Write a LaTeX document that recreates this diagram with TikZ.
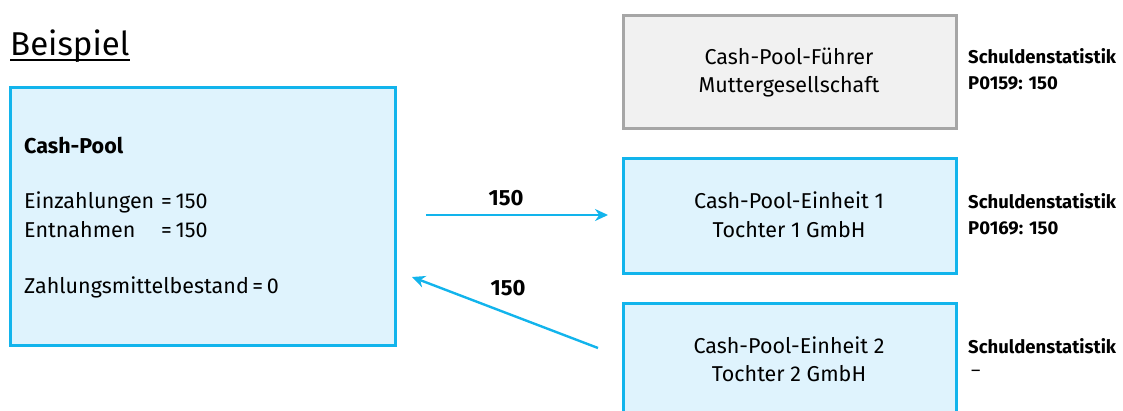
\documentclass[tikz,border=0pt]{standalone}
\usepackage{fontspec}
\setmainfont{Fira Sans}
\usetikzlibrary{arrows.meta,calc}
\definecolor{cpblue}{HTML}{12B4EC}
\definecolor{cpfill}{HTML}{DFF3FD}
\definecolor{cpgray}{HTML}{A6A6A6}
\definecolor{cpgfill}{HTML}{F1F1F1}
\begin{document}
\begin{tikzpicture}[x=1pt,y=-1pt,
  bluebox/.style={draw=cpblue,fill=cpfill,line width=3pt,anchor=north west,inner sep=0pt},
  graybox/.style={draw=cpgray,fill=cpgfill,line width=3pt,anchor=north west,inner sep=0pt},
  txt/.style={anchor=base west,inner sep=0pt,font=\fontsize{21.5}{25}\selectfont,text=black},
  ctxt/.style={anchor=base,inner sep=0pt,font=\fontsize{21.5}{25}\selectfont,text=black},
  stat/.style={anchor=base west,inner sep=0pt,font=\fontsize{18.5}{21}\selectfont\bfseries},
  flow/.style={draw=cpblue,line width=2.4pt,-{Stealth[length=13pt,width=12pt]}},
  lbl/.style={anchor=base,inner sep=0pt,font=\fontsize{22}{25}\selectfont\bfseries}]
\useasboundingbox (0,0) rectangle (1123,410);
\begin{scope}
\clip (0,0) rectangle (1123,410);
% title
\node[anchor=base west,inner sep=0pt,font=\fontsize{33}{38}\selectfont] (title) at (10,55) {Beispiel};
\draw[line width=1.2pt] ($(title.base west)+(0,5)$) -- ($(title.base east)+(0,5)$);
% left box
\node[bluebox,minimum width=385pt,minimum height=258pt] (pool) at (9,86) {};
\node[txt,font=\fontsize{21.5}{25}\selectfont\bfseries] (cp) at (24,153) {Cash-Pool};
\node[txt] (ein) at (24,208) {Einzahlungen};
\node[txt] (eineq) at (161,208) {=\,150};
\node[txt] (ent) at (24,237) {Entnahmen};
\node[txt] (enteq) at (161,237) {=\,150};
\node[txt] (zmb) at (24,293) {Zahlungsmittelbestand\,=\,0};
% right boxes
\node[graybox,minimum width=333pt,minimum height=113pt] (fuehrer) at (622,14) {};
\node[ctxt] (f1) at (789,64) {Cash-Pool-Führer};
\node[ctxt] (f2) at (789,92) {Muttergesellschaft};
\node[bluebox,minimum width=333pt,minimum height=115pt] (e1) at (622,157) {};
\node[ctxt] (e1a) at (789,208) {Cash-Pool-Einheit 1};
\node[ctxt] (e1b) at (789,237) {Tochter 1 GmbH};
\node[bluebox,minimum width=333pt,minimum height=140pt] (e2) at (622,302) {};
\node[ctxt] (e2a) at (789,353) {Cash-Pool-Einheit 2};
\node[ctxt] (e2b) at (789,381) {Tochter 2 GmbH};
% statistics labels
\node[stat] (s0) at (968,63) {Schuldenstatistik};
\node[stat] (s0b) at (968,89) {P0159: 150};
\node[stat] (s1) at (968,208) {Schuldenstatistik};
\node[stat] (s1b) at (968,234) {P0169: 150};
\node[stat] (s2) at (968,353) {Schuldenstatistik};
\node[anchor=base west,inner sep=0pt,font=\fontsize{18}{21}\selectfont] (s2b) at (971,376) {–};
% arrows
\coordinate (a1s) at (426,215);
\coordinate (a1e) at (608,215);
\coordinate (a2s) at (598,348);
\coordinate (a2e) at (412,277);
\draw[flow] (a1s) -- (a1e);
\draw[flow] (a2s) -- (a2e);
\node[lbl] (l1) at (506,205) {150};
\node[lbl] (l2) at (508,295) {150};
\end{scope}
\end{tikzpicture}
\end{document}
